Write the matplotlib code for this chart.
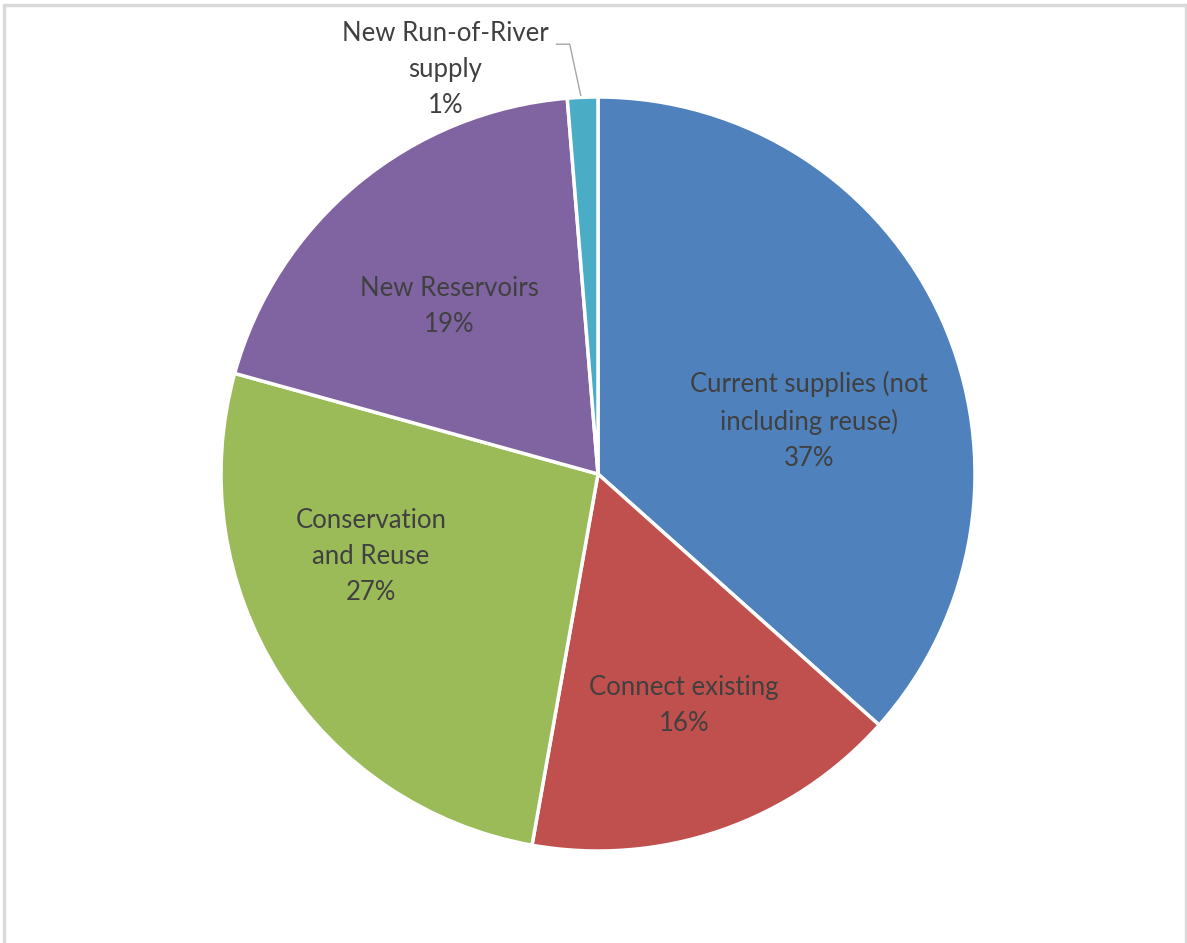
import matplotlib
matplotlib.use("Agg")
import matplotlib.pyplot as plt
import numpy as np

categories = ["Current supplies (not\nincluding reuse)", "Connect existing",
              "Conservation\nand Reuse", "New Reservoirs", "New Run-of-River\nsupply"]
values = [36.6, 16.2, 26.5, 19.4, 1.3]
pct_labels = ["37%", "16%", "27%", "19%", "1%"]
colors = ["#4F81BD", "#C0504D", "#9BBB59", "#8064A2", "#4BACC6"]

# label positions (in units of pie radius)
label_pos = [(0.56, 0.14), (0.228, -0.615), (-0.602, -0.22), (-0.395, 0.443), (-0.405, 1.072)]

W, H, DPI = 1187, 943, 100
fig = plt.figure(figsize=(W / DPI, H / DPI), dpi=DPI)
fig.patch.set_facecolor("white")

# outer light border
border = plt.Rectangle((3.5 / W, -0.05), (W - 5) / W, 1 - 4.5 / H + 0.05, transform=fig.transFigure,
                       fill=False, edgecolor="#D9D9D9", linewidth=2.5)
fig.patches.append(border)

cx, cy, R = 598, 474, 377
ax = fig.add_axes([(cx - R) / W, (H - cy - R) / H, 2 * R / W, 2 * R / H])
ax.pie(values, colors=colors, startangle=90, counterclock=False,
       wedgeprops=dict(edgecolor="white", linewidth=2.5), radius=1.0)
ax.set_xlim(-1, 1)
ax.set_ylim(-1, 1)
ax.set_aspect("equal")
ax.axis("off")

font = dict(family="Lato", fontsize=18.5, color="#404040", ha="center", va="center", linespacing=1.55)
for cat, pct, (x, y) in zip(categories, pct_labels, label_pos):
    ax.text(x, y, cat + "\n" + pct, **font)

# leader line for the small slice
theta = np.deg2rad(90 - 360 * (sum(values[:-1]) + values[-1] / 2) / 100)
ax.plot([-0.11, -0.075, 1.0 * np.cos(theta) - 0.005],
        [1.14, 1.14, 1.0 * np.sin(theta) + 0.005],
        color="#A6A6A6", linewidth=1.0, clip_on=False)

fig.savefig("out.png", dpi=DPI, facecolor="white")
